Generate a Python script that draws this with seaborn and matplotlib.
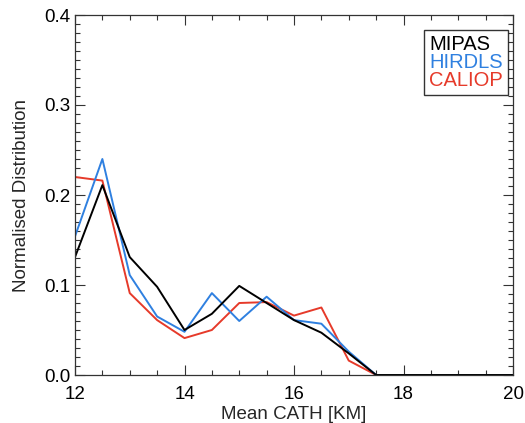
import numpy as np
import pandas as pd
import matplotlib
matplotlib.use("Agg")
import matplotlib.pyplot as plt
import seaborn as sns
from matplotlib.ticker import MultipleLocator

cath_km = [12.0, 12.5, 13.0, 13.5, 14.0, 14.5, 15.0, 15.5, 16.0, 16.5, 17.0, 17.5,
           18.0, 18.5, 19.0, 19.5, 20.0]
mipas = [0.131, 0.211, 0.131, 0.098, 0.050, 0.068, 0.099, 0.080, 0.061, 0.047, 0.024, 0.0,
         0.0, 0.0, 0.0, 0.0, 0.0]
hirdls = [0.154, 0.240, 0.111, 0.065, 0.048, 0.091, 0.060, 0.087, 0.061, 0.057, 0.026, 0.0,
          0.0, 0.0, 0.0, 0.0, 0.0]
caliop = [0.220, 0.216, 0.091, 0.061, 0.041, 0.050, 0.080, 0.081, 0.066, 0.075, 0.016, 0.0,
          0.0, 0.0, 0.0, 0.0, 0.0]
series_names = ["MIPAS", "HIRDLS", "CALIOP"]
series_colors = ["#000000", "#2f80e0", "#e63a2a"]

df = pd.DataFrame({
    "x": cath_km * 3,
    "y": mipas + hirdls + caliop,
    "series": sum([[n] * len(cath_km) for n in series_names], []),
})

sns.set_style("ticks")
plt.rcParams["font.family"] = ["Liberation Sans", "DejaVu Sans"]

fig = plt.figure(figsize=(5.25, 4.23), dpi=100)
ax = fig.add_axes([75 / 525, 1 - 375 / 423, (513 - 75) / 525, (375 - 15) / 423])

sns.lineplot(data=df, x="x", y="y", hue="series", palette=dict(zip(series_names, series_colors)),
             hue_order=series_names[::-1], linewidth=1.4, ax=ax, legend=False)

ax.set_xlim(12, 20)
ax.set_ylim(0, 0.4)
ax.xaxis.set_major_locator(MultipleLocator(2))
ax.xaxis.set_minor_locator(MultipleLocator(0.5))
ax.yaxis.set_major_locator(MultipleLocator(0.1))
ax.yaxis.set_minor_locator(MultipleLocator(0.01))
ax.yaxis.set_major_formatter(matplotlib.ticker.FormatStrFormatter("%.1f"))
ax.tick_params(which="both", direction="in", top=True, right=True, colors="#333333",
               labelcolor="black", labelsize=13.5)
ax.tick_params(which="major", length=7, width=0.8)
ax.tick_params(which="minor", length=3.5, width=0.8)
for s in ax.spines.values():
    s.set_color("#333333")
    s.set_linewidth(0.9)
ax.tick_params(axis="x", pad=8)

ax.set_xlabel("Mean CATH [KM]", fontsize=13.5, labelpad=2)
ax.set_ylabel("Normalised Distribution", fontsize=13.5, labelpad=10)

from matplotlib.lines import Line2D
handles = [Line2D([], [], color=c, linewidth=0) for c in series_colors]
leg = ax.legend(handles, series_names, loc="upper right", handlelength=0, handletextpad=0,
                fontsize=14.5, frameon=True, fancybox=False, edgecolor="black",
                borderpad=0.25, labelspacing=-0.05, borderaxespad=0,
                bbox_to_anchor=(0.989, 0.958))
leg.get_frame().set_linewidth(1.0)
for t, c in zip(leg.get_texts(), series_colors):
    t.set_color(c)

fig.savefig("out.png", dpi=100)
